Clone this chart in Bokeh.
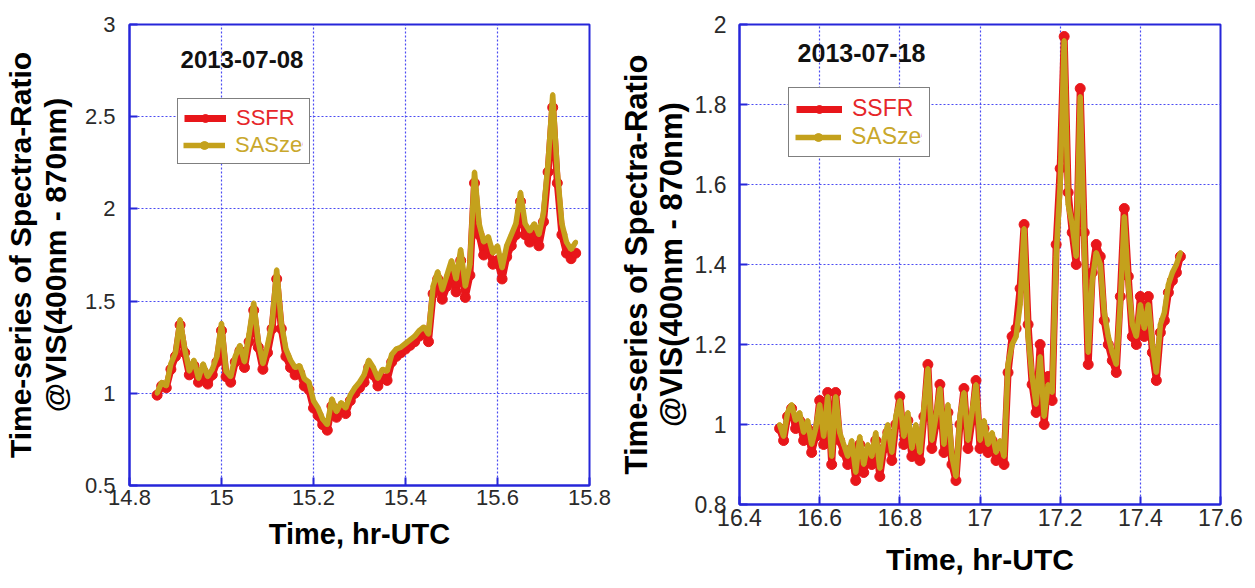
from bokeh.plotting import figure
from bokeh.layouts import row
from bokeh.models import Legend, LegendItem, Label, Range1d, FixedTicker, CustomJSTickFormatter
from bokeh.embed import file_html
from bokeh.resources import INLINE

# ---------------- data ----------------
left_date = "2013-07-08"
right_date = "2013-07-18"
series_names = ["SSFR", "SASze"]

left_time = [
    14.86, 14.87, 14.88, 14.89, 14.90, 14.91, 14.92, 14.93, 14.94, 14.95,
    14.96, 14.97, 14.98, 14.99, 15.00, 15.01, 15.02, 15.03, 15.04, 15.05,
    15.06, 15.07, 15.08, 15.09, 15.10, 15.11, 15.12, 15.13, 15.14, 15.15,
    15.16, 15.17, 15.18, 15.19, 15.20, 15.21, 15.22, 15.23, 15.24, 15.25,
    15.26, 15.27, 15.28, 15.29, 15.30, 15.31, 15.32, 15.33, 15.34, 15.35,
    15.36, 15.37, 15.38, 15.39, 15.40, 15.41, 15.42, 15.43, 15.44, 15.45,
    15.46, 15.47, 15.48, 15.49, 15.50, 15.51, 15.52, 15.53, 15.54, 15.55,
    15.56, 15.57, 15.58, 15.59, 15.60, 15.61, 15.62, 15.63, 15.64, 15.65,
    15.66, 15.67, 15.68, 15.69, 15.70, 15.71, 15.72, 15.73, 15.74, 15.75,
    15.76, 15.77]
left_sasze = [
    1.00, 1.06, 1.04, 1.16, 1.22, 1.40, 1.24, 1.12, 1.18, 1.08,
    1.16, 1.09, 1.13, 1.20, 1.38, 1.12, 1.09, 1.20, 1.26, 1.17,
    1.32, 1.49, 1.28, 1.16, 1.26, 1.38, 1.67, 1.38, 1.24, 1.18,
    1.14, 1.15, 1.08, 1.06, 0.96, 0.92, 0.86, 0.83, 0.97, 0.90,
    0.95, 0.92, 0.99, 1.03, 1.06, 1.10, 1.18, 1.14, 1.08, 1.13,
    1.12, 1.21, 1.24, 1.25, 1.27, 1.29, 1.31, 1.34, 1.36, 1.32,
    1.58, 1.66, 1.56, 1.64, 1.72, 1.62, 1.78, 1.58, 1.70, 2.20,
    1.92, 1.82, 1.85, 1.76, 1.80, 1.68, 1.80, 1.86, 1.92, 2.09,
    1.92, 1.88, 1.92, 1.86, 1.98, 2.25, 2.62, 2.20, 1.92, 1.82,
    1.78, 1.82]
left_ssfr = [
    0.99, 1.04, 1.03, 1.13, 1.20, 1.37, 1.22, 1.10, 1.15, 1.06,
    1.12, 1.05, 1.10, 1.17, 1.34, 1.09, 1.06, 1.17, 1.23, 1.14,
    1.28, 1.45, 1.25, 1.13, 1.22, 1.35, 1.62, 1.35, 1.20, 1.14,
    1.10, 1.11, 1.04, 1.02, 0.92, 0.88, 0.83, 0.80, 0.93, 0.87,
    0.92, 0.89, 0.96, 1.00, 1.03, 1.06, 1.14, 1.10, 1.04, 1.08,
    1.07, 1.17, 1.20, 1.22, 1.24, 1.26, 1.28, 1.31, 1.33, 1.28,
    1.54, 1.62, 1.51, 1.58, 1.66, 1.55, 1.72, 1.52, 1.64, 2.14,
    1.86, 1.75, 1.79, 1.70, 1.72, 1.62, 1.74, 1.80, 1.86, 2.04,
    1.86, 1.82, 1.86, 1.80, 1.93, 2.20, 2.55, 2.14, 1.86, 1.76,
    1.73, 1.76]

right_time = [
    16.50, 16.51, 16.52, 16.53, 16.54, 16.55, 16.56, 16.57, 16.58, 16.59,
    16.60, 16.61, 16.62, 16.63, 16.64, 16.65, 16.66, 16.67, 16.68, 16.69,
    16.70, 16.71, 16.72, 16.73, 16.74, 16.75, 16.76, 16.77, 16.78, 16.79,
    16.80, 16.81, 16.82, 16.83, 16.84, 16.85, 16.86, 16.87, 16.88, 16.89,
    16.90, 16.91, 16.92, 16.93, 16.94, 16.95, 16.96, 16.97, 16.98, 16.99,
    17.00, 17.01, 17.02, 17.03, 17.04, 17.05, 17.06, 17.07, 17.08, 17.09,
    17.10, 17.11, 17.12, 17.13, 17.14, 17.15, 17.16, 17.17, 17.18, 17.19,
    17.20, 17.21, 17.22, 17.23, 17.24, 17.25, 17.26, 17.27, 17.28, 17.29,
    17.30, 17.31, 17.32, 17.33, 17.34, 17.35, 17.36, 17.37, 17.38, 17.39,
    17.40, 17.41, 17.42, 17.43, 17.44, 17.45, 17.46, 17.47, 17.48, 17.49,
    17.50]
right_sasze = [
    1.00, 0.97, 1.03, 1.05, 1.01, 1.03, 0.98, 1.01, 0.95, 0.99,
    1.05, 0.97, 1.07, 0.92, 1.07, 0.98, 0.95, 0.92, 0.96, 0.88,
    0.97, 0.90, 0.95, 0.92, 0.98, 0.89, 0.96, 1.00, 0.93, 1.02,
    1.06, 0.97, 1.03, 0.94, 1.00, 0.93, 1.04, 1.14, 0.96, 1.02,
    1.09, 0.95, 1.05, 0.92, 0.87, 1.02, 1.08, 0.96, 1.03, 1.10,
    0.96, 1.01, 0.95, 0.98, 0.93, 0.96, 0.92, 1.15, 1.20, 1.22,
    1.30, 1.49, 1.22, 1.12, 1.05, 1.17, 1.02, 1.10, 1.08, 1.42,
    1.60, 1.96, 1.55, 1.50, 1.42, 1.82, 1.45, 1.18, 1.36, 1.43,
    1.40, 1.28, 1.22, 1.18, 1.15, 1.30, 1.52, 1.35, 1.25, 1.22,
    1.30, 1.24, 1.30, 1.20, 1.13, 1.25, 1.28, 1.35, 1.38, 1.40,
    1.43]
right_ssfr = [
    0.99, 0.96, 1.02, 1.04, 0.99, 1.01, 0.96, 0.99, 0.93, 0.97,
    1.06, 0.95, 1.08, 0.90, 1.08, 0.96, 0.93, 0.90, 0.94, 0.86,
    0.95, 0.88, 0.93, 0.90, 0.96, 0.87, 0.94, 0.98, 0.91, 1.00,
    1.07, 0.95, 1.01, 0.92, 0.98, 0.91, 1.02, 1.15, 0.94, 1.00,
    1.10, 0.93, 1.03, 0.90, 0.86, 1.00, 1.09, 0.94, 1.01, 1.11,
    0.94, 0.99, 0.93, 0.96, 0.91, 0.94, 0.90, 1.13, 1.22, 1.24,
    1.34, 1.50, 1.25, 1.10, 1.03, 1.20, 1.00, 1.12, 1.06, 1.45,
    1.64, 1.97, 1.58, 1.48, 1.40, 1.84, 1.48, 1.15, 1.38, 1.45,
    1.42, 1.26, 1.20, 1.16, 1.13, 1.32, 1.54, 1.37, 1.22, 1.20,
    1.32, 1.22, 1.32, 1.18, 1.11, 1.23, 1.26, 1.33, 1.36, 1.38,
    1.42]

left_xticks = [14.8, 15.0, 15.2, 15.4, 15.6, 15.8]
left_xlabels = ["14.8", "15", "15.2", "15.4", "15.6", "15.8"]
left_yticks = [0.5, 1.0, 1.5, 2.0, 2.5, 3.0]
left_ylabels = ["0.5", "1", "1.5", "2", "2.5", "3"]
right_xticks = [16.4, 16.6, 16.8, 17.0, 17.2, 17.4, 17.6]
right_xlabels = ["16.4", "16.6", "16.8", "17", "17.2", "17.4", "17.6"]
right_yticks = [0.8, 1.0, 1.2, 1.4, 1.6, 1.8, 2.0]
right_ylabels = ["0.8", "1", "1.2", "1.4", "1.6", "1.8", "2"]

x_title = "Time, hr-UTC"
y_title = "Time-series of Spectra-Ratio\n@VIS(400nm - 870nm)"

# ---------------- style ----------------
FONT = "Liberation Sans"
BLUE = "#2626d9"
GRID = "#4b4bf2"
RED = "#e8161a"
GOLD = "#c4a11c"
RED_TXT = "#e6262a"
GOLD_TXT = "#c9a82c"
TXT = "#2a2a2a"


def fmt(tk, lb):
    return CustomJSTickFormatter(args=dict(tvals=tk, tlabs=lb), code="""
        for (let i = 0; i < tvals.length; i++) {
            if (Math.abs(tvals[i] - tick) < 1e-9) return tlabs[i];
        }
        return '';
    """)


def panel(t, ssfr, sasze, xticks, xlabels, yticks, ylabels, date, date_xy, leg_xy, g):
    p = figure(frame_width=g["fw"], frame_height=g["fh"],
               x_range=Range1d(xticks[0], xticks[-1]), y_range=Range1d(yticks[0], yticks[-1]),
               output_backend="svg", toolbar_location=None,
               min_border_left=g["l"], min_border_right=g["r"],
               min_border_top=g["t"], min_border_bottom=g["b"],
               background_fill_color="white", border_fill_color="white",
               outline_line_color=BLUE, outline_line_width=2)

    xa = p.xaxis[0]
    ya = p.yaxis[0]
    for ax, tk, lb in ((xa, xticks, xlabels), (ya, yticks, ylabels)):
        ax.ticker = FixedTicker(ticks=tk)
        ax.formatter = fmt(tk, lb)
        ax.axis_line_color = BLUE
        ax.axis_line_width = 2
        ax.major_tick_line_color = BLUE
        ax.major_tick_line_width = 2
        ax.major_tick_in = 8
        ax.major_tick_out = 0
        ax.minor_tick_line_color = None
        ax.major_label_text_font = FONT
        ax.major_label_text_font_size = g["tick_fs"]
        ax.major_label_text_color = TXT
        ax.axis_label_text_font = FONT
        ax.axis_label_text_font_style = "bold"
        ax.axis_label_text_color = "#000000"
    xa.axis_label = x_title
    xa.axis_label_text_font_size = g["xt_fs"]
    xa.major_label_standoff = g["x_std"]
    xa.axis_label_standoff = g["xt_std"]
    ya.axis_label = y_title
    ya.axis_label_text_font_size = g["yt_fs"]
    ya.axis_label_text_line_height = g["lh"]
    ya.major_label_standoff = g["y_std"]
    ya.axis_label_standoff = g["yt_std"]

    p.xgrid.ticker = FixedTicker(ticks=xticks)
    p.ygrid.ticker = FixedTicker(ticks=yticks)
    p.grid.grid_line_color = GRID
    p.grid.grid_line_dash = "2 2"
    p.grid.grid_line_width = 1.2

    r_line = p.line(t, ssfr, line_color=RED, line_width=7)
    r_dot = p.scatter(t, ssfr, marker="circle", size=10, fill_color=RED, line_color=RED)
    g_line = p.line(t, sasze, line_color=GOLD, line_width=5.5)
    g_dot = p.scatter(t, sasze, marker="circle", size=4, fill_color=GOLD, line_color=GOLD)

    common = dict(label_text_font=FONT, label_text_font_size=g["leg_fs"],
                  glyph_width=g["gw"], glyph_height=20, label_height=20,
                  label_standoff=10, spacing=0)
    legA = Legend(items=[LegendItem(label=series_names[0], renderers=[r_line, r_dot]),
                         LegendItem(label=series_names[1], renderers=[g_line, g_dot])],
                  location=leg_xy, padding=g["pad"], margin=0,
                  border_line_color="black", border_line_width=1.5,
                  background_fill_color="white", background_fill_alpha=1,
                  label_text_color=RED_TXT, **common)
    legB = Legend(items=[LegendItem(label=series_names[1], renderers=[g_line, g_dot])],
                  location=(leg_xy[0] + g["pad"], leg_xy[1] + g["pad"]), padding=0, margin=0,
                  border_line_color=None,
                  background_fill_color="white", background_fill_alpha=1,
                  label_text_color=GOLD_TXT, **common)
    p.add_layout(legA)
    p.add_layout(legB)

    p.add_layout(Label(x=date_xy[0], y=date_xy[1], text=date, text_font=FONT,
                       text_font_style="bold", text_font_size=g["date_fs"],
                       text_color="#111111", text_baseline="top"))
    return p


gL = dict(fw=460, fh=461, l=129, r=25, t=24, b=103, tick_fs="22px", xt_fs="29px", yt_fs="30px",
          lh=1.05, x_std=4, xt_std=10, y_std=14, yt_std=10, leg_fs="22px", gw=42, pad=6, date_fs="24px")
gR = dict(fw=481, fh=480, l=125, r=35, t=20, b=88, tick_fs="23px", xt_fs="30px", yt_fs="31px",
          lh=1.0, x_std=4, xt_std=14, y_std=13, yt_std=3, leg_fs="23px", gw=46, pad=7, date_fs="25px")

p1 = panel(left_time, left_ssfr, left_sasze, left_xticks, left_xlabels, left_yticks, left_ylabels,
           left_date, (14.911, 2.856), (48, 321), gL)
p2 = panel(right_time, right_ssfr, right_sasze, right_xticks, right_xlabels, right_yticks, right_ylabels,
           right_date, (16.545, 1.952), (49, 347), gR)

layout = row(p1, p2)
open("out.html", "w").write(file_html(layout, INLINE))
